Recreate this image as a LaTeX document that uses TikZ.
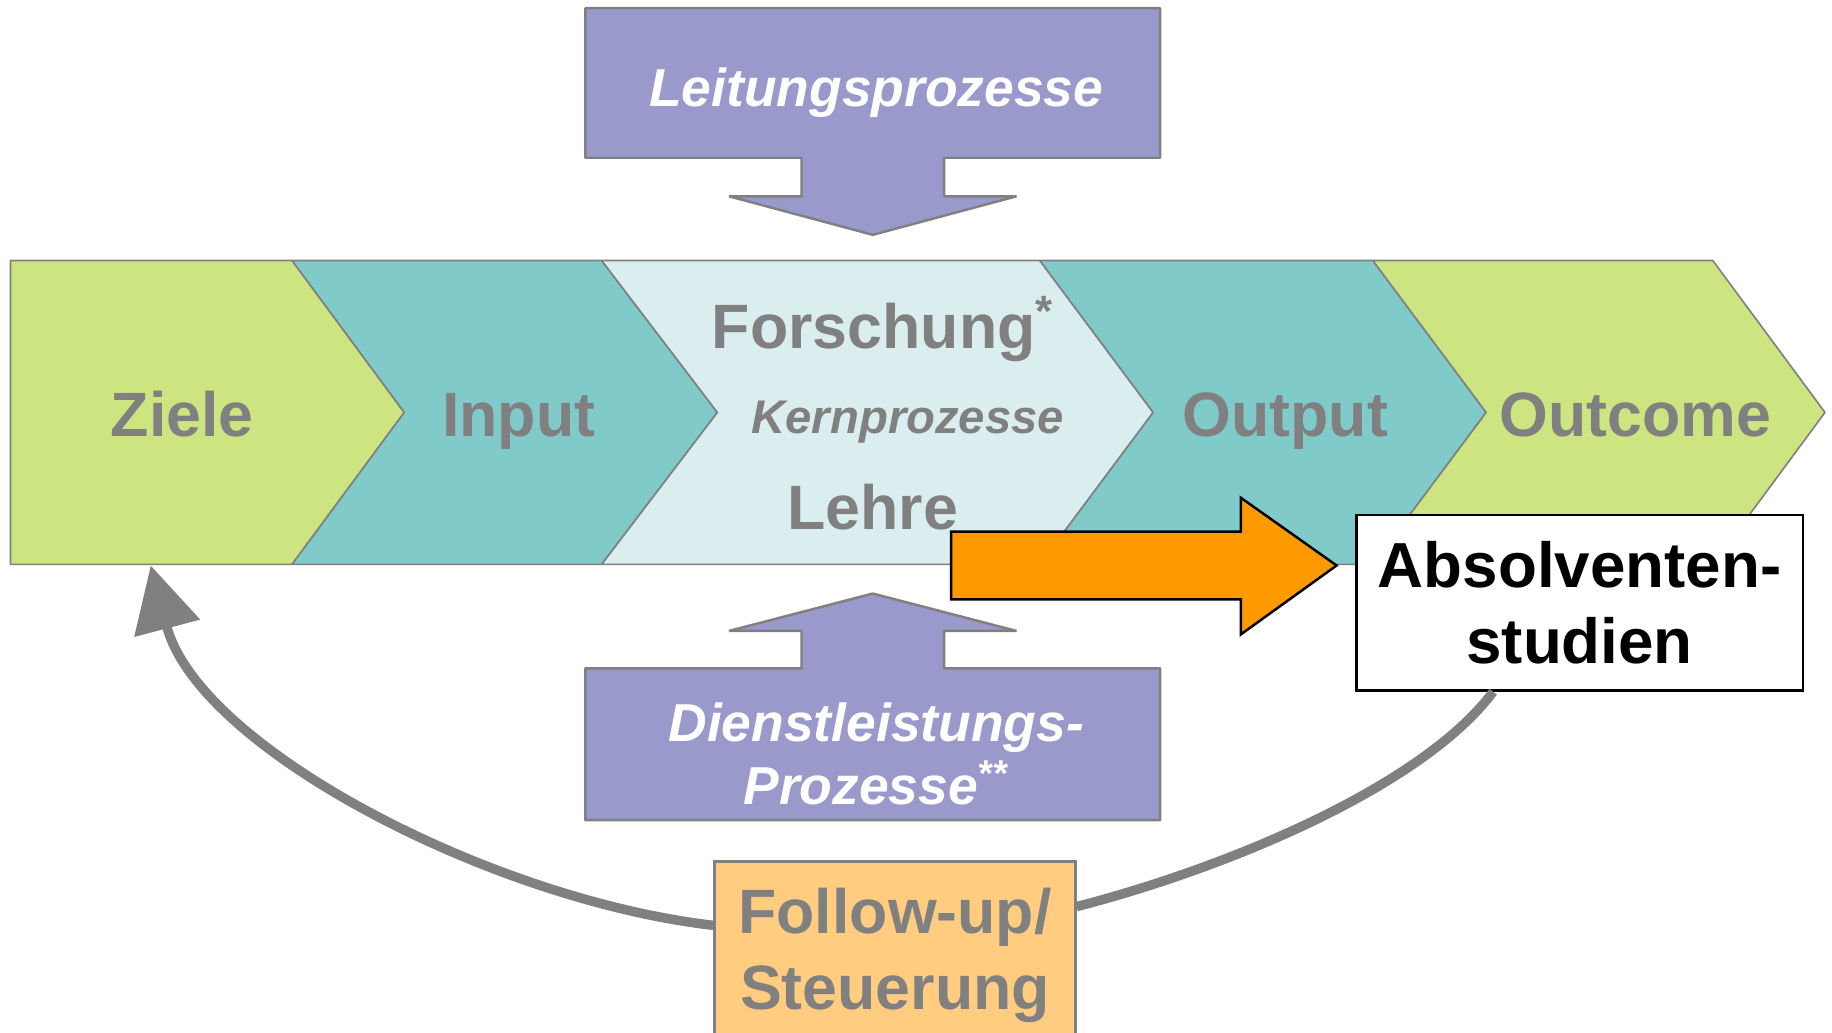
\documentclass[tikz,border=0pt]{standalone}
\usepackage{fontspec}
\setmainfont{Liberation Sans}
\usepackage{tikz}
\usetikzlibrary{arrows.meta}
\definecolor{zielgreen}{RGB}{205,229,128}
\definecolor{stepteal}{RGB}{128,202,202}
\definecolor{kernblue}{RGB}{219,238,239}
\definecolor{procviolet}{RGB}{153,153,204}
\definecolor{absorange}{RGB}{255,153,0}
\definecolor{followorange}{RGB}{255,204,128}
\definecolor{textgray}{RGB}{128,128,128}
\tikzstyle{chevron} = [draw=textgray, line width=0.4pt, line join=bevel]
\tikzstyle{procbox} = [fill=procviolet, draw=textgray, line width=0.6pt, line join=bevel]
\tikzstyle{biglabel} = [text=textgray, font=\bfseries\fontsize{15.25}{18.5}\selectfont, inner sep=0pt]
\tikzstyle{proclabel} = [text=white, font=\bfseries\itshape\fontsize{13}{15.3}\selectfont, inner sep=0pt]
\tikzstyle{feedback} = [draw=textgray, line width=2.3pt]
\tikzstyle{arrow} = [feedback, -{Triangle[length=15.8pt, width=16pt]}]

\begin{document}
\begin{tikzpicture}[x=0.01cm, y=-0.01cm]
    \useasboundingbox (0,0) rectangle (1568,884);
    \clip (0,0) rectangle (1568,884);

    \filldraw [chevron, fill=zielgreen] (9,223) -- (250,223) -- (346,353) -- (250,483) -- (9,483) -- cycle;
    \filldraw [chevron, fill=stepteal] (250,223) -- (515,223) -- (614,353) -- (515,483) -- (250,483) -- (346,353) -- cycle;
    \filldraw [chevron, fill=kernblue] (515,223) -- (890,223) -- (987,353) -- (890,483) -- (515,483) -- (614,353) -- cycle;
    \filldraw [chevron, fill=stepteal] (890,223) -- (1175,223) -- (1272,353) -- (1175,483) -- (890,483) -- (987,353) -- cycle;
    \filldraw [chevron, fill=zielgreen] (1175,223) -- (1466,223) -- (1562,353) -- (1466,483) -- (1175,483) -- (1272,353) -- cycle;

    \node (ziele) [biglabel, anchor=base] at (156,374) {Ziele};
    \node (input) [biglabel, anchor=base] at (444,374) {Input};
    \node (forschung) [biglabel, anchor=base] at (756,298) {Forschung\textsuperscript{*}};
    \node (kern) [biglabel, anchor=base, font=\bfseries\itshape\fontsize{11.5}{13.8}\selectfont] at (777,371) {Kernprozesse};
    \node (lehre) [biglabel, anchor=base] at (747,453) {Lehre};
    \node (output) [biglabel, anchor=base] at (1100,374) {Output};
    \node (outcome) [biglabel, anchor=base] at (1400,374) {Outcome};

    \filldraw [procbox] (501,7) -- (993,7) -- (993,135) -- (808,135) -- (808,168) -- (870,168) -- (747,201)
        -- (624,168) -- (686,168) -- (686,135) -- (501,135) -- cycle;
    \node (leitung) [proclabel, anchor=base] at (750,91.3) {Leitungsprozesse};

    \filldraw [procbox] (501,702) -- (993,702) -- (993,572) -- (808,572) -- (808,540) -- (870,540) -- (747,508)
        -- (624,540) -- (686,540) -- (686,572) -- (501,572) -- cycle;
    \node (dienst) [proclabel, align=center] at (750,645.5) {Dienstleistungs-\\Prozesse\textsuperscript{**}};

    \filldraw [fill=absorange, draw=black, line width=0.6pt] (814,455) -- (1062,455) -- (1062,426) -- (1144,484)
        -- (1062,543) -- (1062,513) -- (814,513) -- cycle;

    \node (absol) [draw=black, fill=white, line width=0.6pt, minimum width=3.82cm, minimum height=1.5cm,
        inner sep=0pt, align=center, font=\bfseries\fontsize{15.5}{18.6}\selectfont] at (1352,516) {Absolventen-\\studien};

    \node (follow) [biglabel, fill=followorange, draw=textgray, line width=0.6pt, minimum width=3.087cm,
        minimum height=1.61cm, align=center] at (766,818) {Follow-up/\\Steuerung};

    \coordinate (zielefoot) at (129,484);

    \draw [feedback] ([xshift=-0.74cm]absol.south) .. controls (1220,670) and (1060,740) .. ([yshift=0.42cm]follow.east);
    \draw [arrow] ([yshift=0.26cm]follow.west) .. controls (420,770) and (170,640) .. (zielefoot);
\end{tikzpicture}
\end{document}
